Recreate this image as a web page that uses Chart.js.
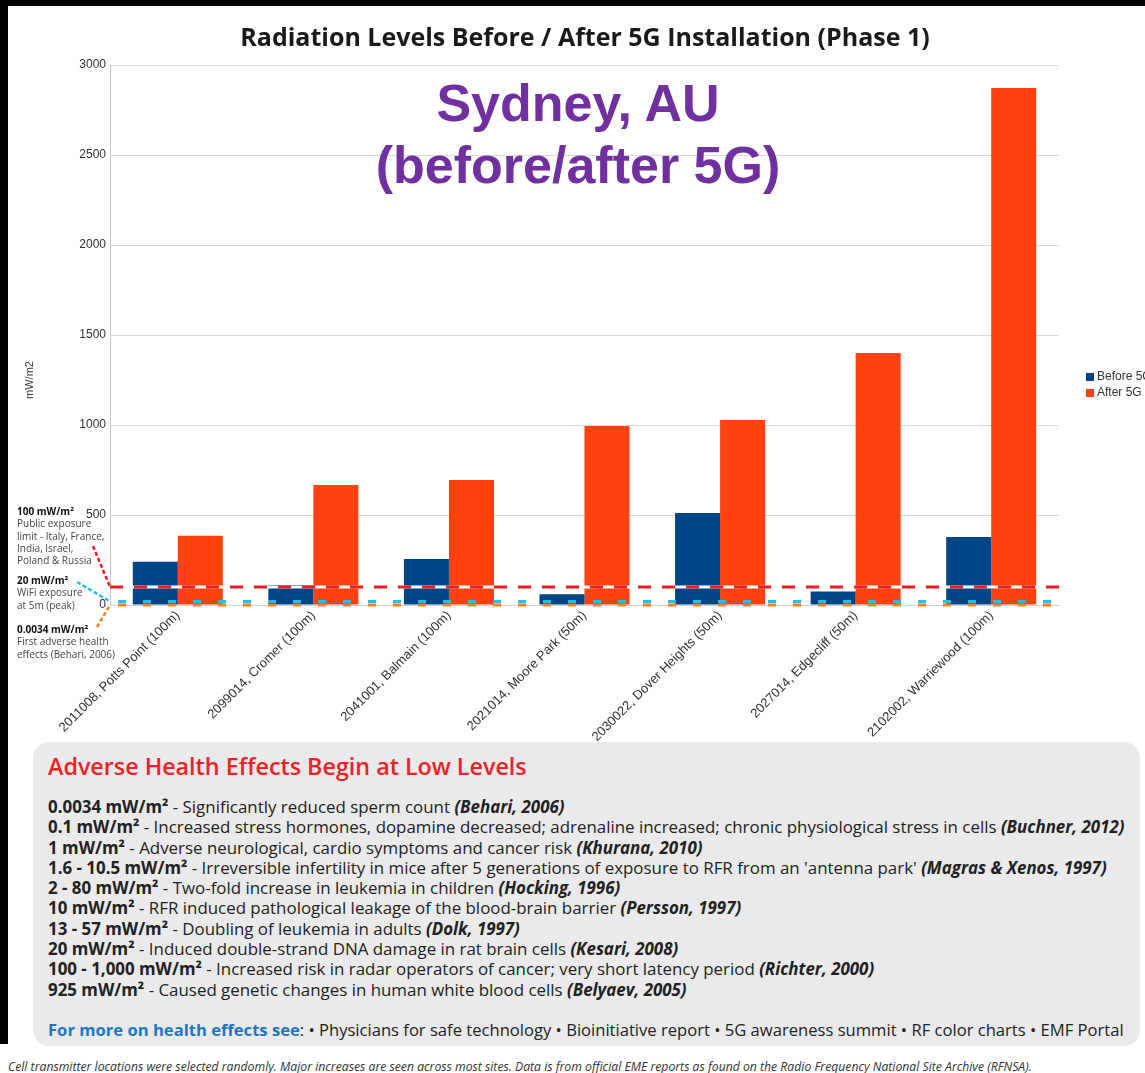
<!DOCTYPE html>
<html>
<head>
<meta charset="utf-8">
<title>Radiation Levels Before / After 5G Installation</title>
<script src="https://cdn.jsdelivr.net/npm/chart.js@4.4.1/dist/chart.umd.min.js"></script>
<style>
  html, body { margin: 0; padding: 0; width: 1145px; height: 1073px; overflow: hidden; background: #000; }
  #page { position: absolute; left: 8px; top: 6px; width: 1200px; height: 1100px; background: #fff; }
  #bottom-fill { position: absolute; left: 0; top: 1044px; width: 8px; height: 40px; background: #fff; }
  #chart-box { position: absolute; left: 0; top: 0; width: 1154px; height: 735px; }
  #title {
    position: absolute; left: 0; top: 15px; width: 1154px; text-align: center;
    font: bold 25px/30px "Open Sans", sans-serif; color: #1a1a1a;
  }
  #city {
    position: absolute; left: 0; top: 66px; width: 1140px; text-align: center;
    font: bold 52px/62px "Liberation Sans", Arial, sans-serif; color: #7030a0;
  }
  #effects {
    position: absolute; left: 25px; top: 736px; width: 1107px; height: 304px;
    background: #eaeaea; border-radius: 16px; box-sizing: border-box; padding: 10px 0 0 15px;
    font-family: "Open Sans", sans-serif; color: #222; white-space: nowrap;
  }
  #effects h2 { margin: 0; font-size: 23.3px; line-height: 28px; font-weight: 600; color: #ec2127; }
  #effects ul { list-style: none; margin: 17px 0 0 0; padding: 0; font-size: 16.9px; line-height: 20.3px; }
  #effects li b { font-weight: 700; }
  #effects li i { font-weight: 700; font-style: italic; }
  #more { margin-top: 19.7px; font-size: 16.6px; line-height: 20.3px; }
  #more b { color: #1d76c4; }
  #note {
    position: absolute; left: 0; top: 1053px; white-space: nowrap;
    font: italic 13px/14px "Open Sans", sans-serif; color: #333;
    transform: scaleX(0.94); transform-origin: left center;
  }
</style>
</head>
<body>
<div id="page">
  <div id="chart-box"><canvas id="chart" width="1154" height="735"></canvas></div>
  <div id="title">Radiation Levels Before / After 5G Installation (Phase 1)</div>
  <div id="city">Sydney, AU<br>(before/after 5G)</div>

  <div id="effects">
    <h2>Adverse Health Effects Begin at Low Levels</h2>
    <ul>
      <li><b>0.0034 mW/m²</b> - Significantly reduced sperm count <i>(Behari, 2006)</i></li>
      <li><b>0.1 mW/m²</b> - Increased stress hormones, dopamine decreased; adrenaline increased; chronic physiological stress in cells <i>(Buchner, 2012)</i></li>
      <li><b>1 mW/m²</b> - Adverse neurological, cardio symptoms and cancer risk <i>(Khurana, 2010)</i></li>
      <li><b>1.6 - 10.5 mW/m²</b> - Irreversible infertility in mice after 5 generations of exposure to RFR from an 'antenna park' <i>(Magras &amp; Xenos, 1997)</i></li>
      <li><b>2 - 80 mW/m²</b> - Two-fold increase in leukemia in children <i>(Hocking, 1996)</i></li>
      <li><b>10 mW/m²</b> - RFR induced pathological leakage of the blood-brain barrier <i>(Persson, 1997)</i></li>
      <li><b>13 - 57 mW/m²</b> - Doubling of leukemia in adults <i>(Dolk, 1997)</i></li>
      <li><b>20 mW/m²</b> - Induced double-strand DNA damage in rat brain cells <i>(Kesari, 2008)</i></li>
      <li><b>100 - 1,000 mW/m²</b> - Increased risk in radar operators of cancer; very short latency period <i>(Richter, 2000)</i></li>
      <li><b>925 mW/m²</b> - Caused genetic changes in human white blood cells <i>(Belyaev, 2005)</i></li>
    </ul>
    <div id="more"><b>For more on health effects see</b>: • Physicians for safe technology • Bioinitiative report • 5G awareness summit • RF color charts • EMF Portal</div>
  </div>

  <div id="note">Cell transmitter locations were selected randomly. Major increases are seen across most sites. Data is from official EME reports as found on the Radio Frequency National Site Archive (RFNSA).</div>
</div>
<div id="bottom-fill"></div>

<script>
// sites and measured levels (mW/m2)
const sites = [
  "2011008, Potts Point (100m)",
  "2099014, Cromer (100m)",
  "2041001, Balmain (100m)",
  "2021014, Moore Park (50m)",
  "2030022, Dover Heights (50m)",
  "2027014, Edgecliff (50m)",
  "2102002, Warriewood (100m)"
];
const before5G = [240, 111, 256, 60, 511, 75, 378];
const after5G = [385, 667, 694, 994, 1028, 1400, 2872];

const yMin = 0;
const yMax = 3000;
const yStep = 500;

// reference levels drawn across the plot
const thresholdValues = [100, 20, 0.0034];
const thresholdNotes = [
  ["100 mW/m²", "Public exposure", "limit - Italy, France,", "India, Israel,", "Poland & Russia"],
  ["20 mW/m²", "WiFi exposure", "at 5m (peak)"],
  ["0.0034 mW/m²", "First adverse health", "effects (Behari, 2006)"]
];

// styles for the reference lines + where their notes sit in the left margin
const thresholdStyles = [
  { color: "#ee1c25", dash: [13, 11], offset: 0, under: "#ffffff", noteY: 506, from: [85, 540] },
  { color: "#22bdea", dash: [8, 17], offset: -8, under: null, noteY: 575, from: [69, 576] },
  { color: "#f5821f", dash: [8, 17], offset: -8, under: null, noteY: 624, from: [89, 621] }
];

const overlay = {
  id: "overlay",
  afterDatasetsDraw(chart) {
    const { ctx, chartArea, scales } = chart;
    ctx.save();
    ctx.lineWidth = 3;
    thresholdValues.forEach((v, i) => {
      const st = thresholdStyles[i];
      const py = scales.y.getPixelForValue(v);
      if (st.under) {
        ctx.setLineDash([]);
        ctx.strokeStyle = st.under;
        ctx.beginPath();
        ctx.moveTo(chartArea.left, py);
        ctx.lineTo(chartArea.right, py);
        ctx.stroke();
      }
      ctx.setLineDash(st.dash);
      ctx.lineDashOffset = st.offset;
      ctx.strokeStyle = st.color;
      ctx.beginPath();
      ctx.moveTo(chartArea.left, py);
      ctx.lineTo(chartArea.right, py);
      ctx.stroke();
    });
    ctx.restore();
  },
  afterDraw(chart) {
    const { ctx, chartArea, scales } = chart;
    ctx.save();

    // connectors from notes to the lines
    ctx.lineWidth = 2.5;
    ctx.setLineDash([4, 2.5]);
    thresholdValues.forEach((v, i) => {
      const st = thresholdStyles[i];
      ctx.strokeStyle = st.color;
      ctx.beginPath();
      ctx.moveTo(st.from[0], st.from[1]);
      ctx.lineTo(chartArea.left, scales.y.getPixelForValue(v));
      ctx.stroke();
    });
    ctx.setLineDash([]);

    // notes
    ctx.textBaseline = "middle";
    ctx.textAlign = "left";
    thresholdNotes.forEach((lines, i) => {
      const y0 = thresholdStyles[i].noteY;
      lines.forEach((t, j) => {
        ctx.font = (j === 0 ? "bold " : "") + "10px 'Open Sans'";
        ctx.fillStyle = j === 0 ? "#111" : "#444";
        ctx.fillText(t, 9, y0 + j * 12.4);
      });
    });

    // y axis title
    ctx.save();
    ctx.translate(22, 374);
    ctx.rotate(-Math.PI / 2);
    ctx.textAlign = "center";
    ctx.font = "11px 'Liberation Sans'";
    ctx.fillStyle = "#333";
    ctx.fillText("mW/m2", 0, 0);
    ctx.restore();

    // legend
    ctx.font = "12px 'Liberation Sans'";
    chart.data.datasets.forEach((ds, i) => {
      const ly = 371 + i * 16;
      ctx.fillStyle = ds.backgroundColor;
      ctx.fillRect(1078, ly - 4, 8, 8);
      ctx.fillStyle = "#333";
      ctx.fillText(ds.label, 1089, ly);
    });
    ctx.restore();
  }
};

Chart.defaults.font.family = "'Liberation Sans', Arial, sans-serif";
Chart.defaults.color = "#333";

new Chart(document.getElementById("chart"), {
  type: "bar",
  data: {
    labels: sites,
    datasets: [
      { label: "Before 5G", data: before5G, backgroundColor: "#004586" },
      { label: "After 5G", data: after5G, backgroundColor: "#ff420e" }
    ]
  },
  options: {
    responsive: false,
    animation: false,
    devicePixelRatio: 1,
    layout: { padding: { left: 0, right: 103, top: 59, bottom: 0 } },
    datasets: { bar: { categoryPercentage: 0.664, barPercentage: 1 } },
    plugins: {
      legend: { display: false },
      tooltip: { enabled: false },
      title: { display: false }
    },
    scales: {
      x: {
        grid: { display: false, drawTicks: false },
        border: { color: "#d0d0d0" },
        ticks: { minRotation: 45, maxRotation: 45, padding: 3, font: { size: 13 }, color: "#333" },
        afterFit(axis) { axis.height = 136; }
      },
      y: {
        min: yMin,
        max: yMax,
        ticks: { stepSize: yStep, padding: 4, font: { size: 12 }, color: "#333", callback: v => String(v) },
        grid: { color: "#dadada", drawTicks: false },
        border: { color: "#c8c8c8" },
        afterFit(axis) { axis.width = 102; }
      }
    }
  },
  plugins: [overlay]
});
</script>
</body>
</html>
